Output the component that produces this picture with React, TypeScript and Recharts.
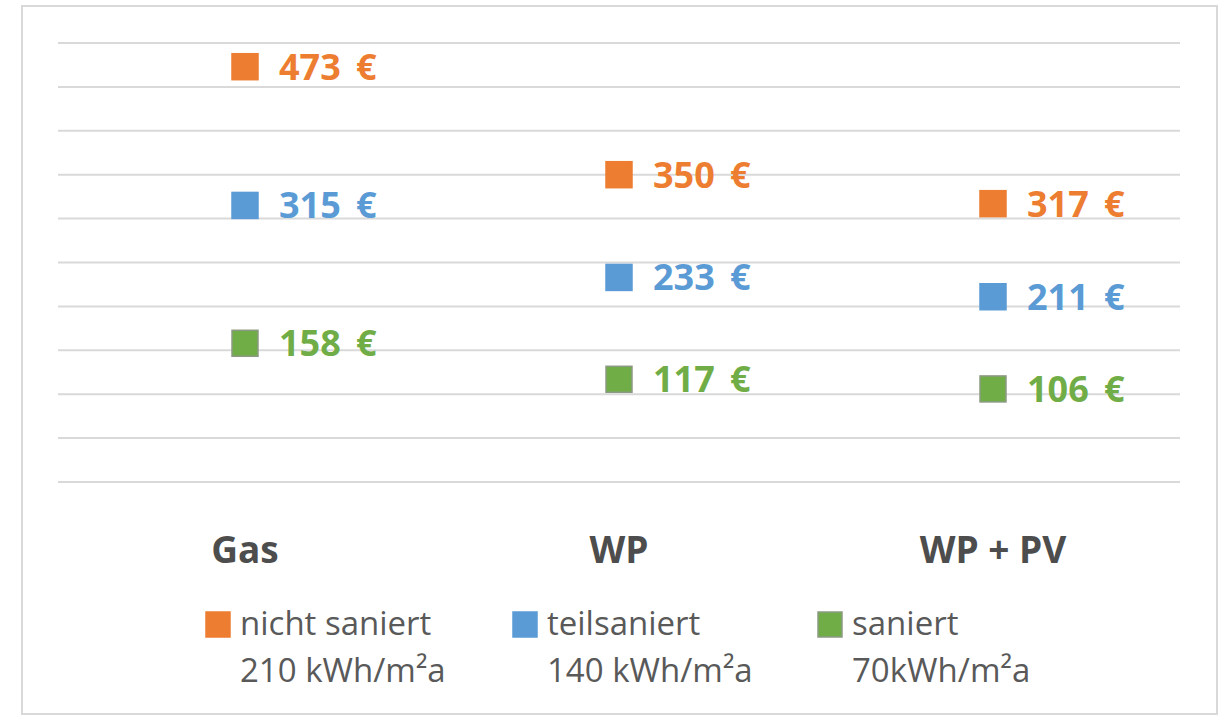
import React from 'react';
import { LineChart, Line, XAxis, YAxis, CartesianGrid, LabelList } from 'recharts';

const categories = ['Gas', 'WP', 'WP + PV'];
const nichtSaniert = [473, 350, 317];
const teilsaniert = [315, 233, 211];
const saniert = [158, 117, 106];
const yTicks = [0, 50, 100, 150, 200, 250, 300, 350, 400, 450, 500];
const seriesKeys = ['nicht', 'teil', 'san'];
const seriesNames = ['nicht saniert', 'teilsaniert', 'saniert'];
const seriesSub = ['210 kWh/m²a', '140 kWh/m²a', '70kWh/m²a'];
const colors = ['#ED7D31', '#5B9BD5', '#70AD47'];
const markerStrokes = ['#ED7D31', '#5B9BD5', '#8C9A84'];

const data = categories.map((c, i) => ({
  cat: c,
  nicht: nichtSaniert[i],
  teil: teilsaniert[i],
  san: saniert[i],
}));

const FONT = '"Open Sans", "Noto Sans", sans-serif';

const makeDot = (fill: string, stroke: string) => (props: any) => {
  const { cx, cy, index } = props;
  if (cx == null || cy == null) return <g key={`d-${index}`} />;
  return (
    <rect
      key={`d-${index}`}
      x={cx - 13}
      y={cy - 13}
      width={26}
      height={26}
      fill={fill}
      stroke={stroke}
      strokeWidth={1.5}
    />
  );
};

const makeLabel = (color: string) => (props: any) => {
  const x = props.viewBox?.x ?? props.x;
  const y = props.viewBox?.y ?? props.y;
  return (
    <text
      x={x + 34}
      y={y + 13}
      fill={color}
      fontFamily={FONT}
      fontWeight={700}
      fontSize={36}
    >
      {`${props.value} \u2009€`}
    </text>
  );
};

const AxisTick = (props: any) => {
  const { x, y, payload } = props;
  return (
    <text
      x={x}
      y={y + 73}
      textAnchor="middle"
      fill="#4d4d4d"
      fontFamily={FONT}
      fontWeight={700}
      fontSize={37}
    >
      {payload.value}
    </text>
  );
};

const legendX = [206, 513, 818];

export default function App() {
  return (
    <div style={{ position: 'absolute', left: 0, top: 0, width: 1225, height: 720, background: '#fff', overflow: 'hidden' }}>
      <div
        style={{
          position: 'absolute',
          left: 21,
          top: 5,
          width: 1193,
          height: 706,
          border: '2px solid #d9d9d9',
        }}
      />
      <div style={{ position: 'absolute', left: 0, top: 0 }}>
        <LineChart width={1225} height={720} data={data} margin={{ top: 43, right: 45, left: 58, bottom: 158 }}>
          <CartesianGrid vertical={false} stroke="#d9d9d9" strokeWidth={2} />
          <XAxis
            dataKey="cat"
            axisLine={false}
            tickLine={false}
            height={80}
            tick={<AxisTick />}
            interval={0}
            padding={{ left: 187, right: 187 }}
          />
          <YAxis hide domain={[0, 500]} ticks={yTicks} />
          {seriesKeys.map((k, i) => (
            <Line
              key={k}
              dataKey={k}
              name={seriesNames[i]}
              stroke="none"
              dot={makeDot(colors[i], markerStrokes[i])}
              activeDot={false}
              isAnimationActive={false}
            >
              <LabelList dataKey={k} content={makeLabel(colors[i])} />
            </Line>
          ))}
        </LineChart>
      </div>
      <svg width={1225} height={720} style={{ position: 'absolute', left: 0, top: 0, pointerEvents: 'none' }}>
        {seriesNames.map((n, i) => (
          <g key={n}>
            <rect
              x={legendX[i]}
              y={612}
              width={24}
              height={25}
              fill={colors[i]}
              stroke={markerStrokes[i]}
              strokeWidth={1.5}
            />
            <text x={legendX[i] + 34} y={635} fill="#595959" fontFamily={FONT} fontSize={33}>
              {n}
            </text>
            <text x={legendX[i] + 34} y={682} fill="#595959" fontFamily={FONT} fontSize={33}>
              {seriesSub[i]}
            </text>
          </g>
        ))}
      </svg>
    </div>
  );
}
